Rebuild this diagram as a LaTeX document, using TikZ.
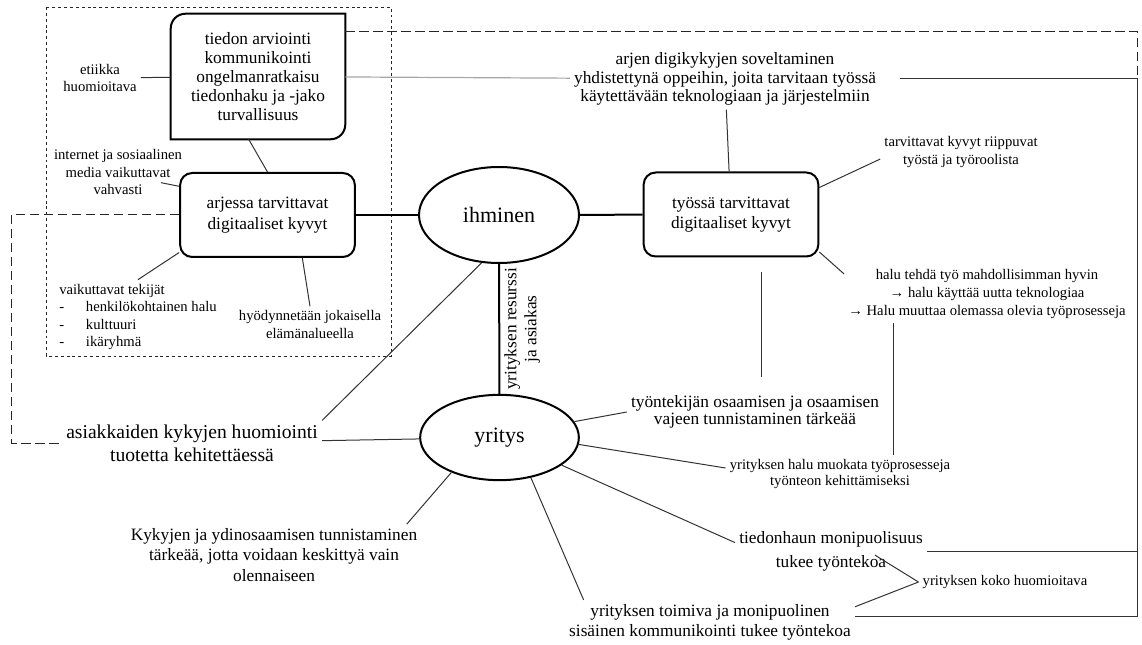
\documentclass[tikz,border=0pt]{standalone}
\usepackage{fontspec}
\setmainfont{Liberation Serif}
\usetikzlibrary{shapes.geometric}

\begin{document}
\begin{tikzpicture}[x=0.75pt, y=-0.75pt,
    every node/.style={inner sep=3pt},
    txtS/.style={font=\fontsize{11}{13.2}\selectfont, align=center},
    txtM/.style={font=\fontsize{13}{14.8}\selectfont, align=center},
    txtL/.style={font=\fontsize{14.7}{17}\selectfont, align=center},
    rbox/.style={draw, line width=1.5pt, rounded corners=9pt, minimum width=131pt, minimum height=63pt, txtM, font=\fontsize{13}{15.5}\selectfont},
    oval/.style={draw, ellipse, line width=1.5pt, inner sep=0pt, font=\fontsize{16.5}{19}\selectfont},
    link/.style={draw=black!80, line width=0.75pt},
    boldlink/.style={draw=black, line width=1.5pt},
    greylink/.style={draw=black!35, line width=0.9pt},
    dashlink/.style={draw=black!85, line width=0.75pt, dash pattern=on 7pt off 3.5pt},
    dotframe/.style={draw=black!85, line width=0.6pt, dash pattern=on 2.2pt off 2.2pt}]
    \useasboundingbox (0,0) rectangle (1142,645);

    % keskimmaiset solmut
    \node[oval, minimum width=120pt, minimum height=72pt] (ih) at (499,215) {ihminen};
    \node[oval, minimum width=119pt, minimum height=64pt] (yr) at (499.5,437.5) {yritys};
    \node[rbox] (ab) at (267.5,215) {arjessa tarvittavat\\digitaaliset kyvyt};
    \node[rbox] (wb) at (731,214.5) {työssä tarvittavat\\digitaaliset kyvyt};
    \node[txtM, font=\fontsize{13}{14.2}\selectfont, minimum width=130.5pt, minimum height=93.75pt] (tb) at (258,76.5)
        {tiedon arviointi\\kommunikointi\\ongelmanratkaisu\\tiedonhaku ja -jako\\turvallisuus};
    \draw[line width=1.5pt] (tb.west) [rounded corners=11pt] |- (tb.north) [sharp corners] -| (tb.east)
        [rounded corners=11pt] |- (tb.south) [sharp corners] -| (tb.west) -- cycle;

    % tekstit
    \node[txtS] (etiikka) at (100,78) {etiikka\\huomioitava};
    \node[txtS] (netti) at (118,172) {internet ja sosiaalinen\\media vaikuttavat\\vahvasti};
    \node[txtS, anchor=west, align=left] (tekijat) at (55,317) {vaikuttavat tekijät\\\makebox[20pt][l]{-}henkilökohtainen halu\\\makebox[20pt][l]{-}kulttuuri\\\makebox[20pt][l]{-}ikäryhmä};
    \node[txtS] (hyod) at (310,324.5) {hyödynnetään jokaisella\\elämänalueella};
    \node[txtM, font=\fontsize{13}{13.9}\selectfont] (arjen) at (725,79) {arjen digikykyjen soveltaminen\\yhdistettynä oppeihin, joita tarvitaan työssä\\käytettävään teknologiaan ja järjestelmiin};
    \node[txtS] (tarv) at (961,152) {tarvittavat kyvyt riippuvat\\työstä ja työroolista};
    \node[txtS, font=\fontsize{11}{13.5}\selectfont] (halu) at (987,294) {halu tehdä työ mahdollisimman hyvin\\→ halu käyttää uutta teknologiaa\\→ Halu muuttaa olemassa olevia työprosesseja};
    \node[txtM, font=\fontsize{13}{12.5}\selectfont] (tyontek) at (755,412) {työntekijän osaamisen ja osaamisen\\vajeen tunnistaminen tärkeää};
    \node[txtS, font=\fontsize{11}{11.5}\selectfont] (muokata) at (840,474) {yrityksen halu muokata työprosesseja\\työnteon kehittämiseksi};
    \node[txtM, font=\fontsize{13}{18}\selectfont] (tiedon) at (831,551) {tiedonhaun monipuolisuus\\tukee työntekoa};
    \node[txtS] (koko) at (1005,582) {yrityksen koko huomioitava};
    \node[txtM, font=\fontsize{13}{15}\selectfont] (toimiva) at (710,622) {yrityksen toimiva ja monipuolinen\\sisäinen kommunikointi tukee työntekoa};
    \node[txtM, font=\fontsize{13}{15.4}\selectfont] (kyky) at (274,555) {Kykyjen ja ydinosaamisen tunnistaminen\\tärkeää, jotta voidaan keskittyä vain\\olennaiseen};
    \node[txtL] (asiak) at (192,443) {asiakkaiden kykyjen huomiointi\\tuotetta kehitettäessä};
    \coordinate (rc) at (1137,79);

    % kehykset
    \draw[dotframe] (46,7) rectangle (391,356);
    \draw[dashlink] ([yshift=-13.5pt]tb.north east) -| (rc);
    \draw[dashlink] (ab.west) -- ++(-168,0) |- (asiak.west);

    % yhteydet
    \draw[link] (etiikka) -- (tb);
    \draw[link] ([xshift=-19pt, yshift=-8pt]netti.east) -- (ab.162);
    \draw[link] ([xshift=-7pt]tb.south) -- (ab.north);
    \draw[link] (tekijat.north) -- (ab.203);
    \draw[link] (hyod.north) -- (ab.-51);
    \draw[boldlink] (ab) -- (ih);
    \draw[boldlink] (ih) -- (wb);
    \draw[boldlink] (ih) -- node[midway, anchor=north, rotate=90, txtM, font=\fontsize{13}{15}\selectfont] {yrityksen resurssi\\ja asiakas} (yr);
    \draw[link] (ih.250) -- (asiak.north east);
    \draw[link] (asiak) -- (yr);
    \draw[greylink] (tb) -- (arjen);
    \draw[link] (arjen) -- (wb);
    \draw[link, shorten <=15pt] (arjen.east) -- (rc) |- (toimiva.2);
    \draw[link] (tiedon.east) -- (tiedon.east -| rc);
    \draw[link] (tarv.185) -- (wb.17);
    \draw[link] (halu.172) -- (wb.-23);
    \draw[link, shorten <=11pt, shorten >=11pt] ([xshift=23pt]wb.south) -- ([xshift=5pt]tyontek.north);
    \draw[link] ([xshift=-70.5pt]halu.south) -- ([xshift=39.75pt]muokata.north);
    \draw[link] (yr.12) -- (tyontek.west);
    \draw[link] (yr.-5) -- (muokata.177);
    \draw[link] (yr.-24) -- (tiedon.175);
    \draw[link] (yr.-52) -- ([xshift=14pt]toimiva.north west);
    \draw[link] (yr.216) -- ([xshift=-11pt]kyky.north east);
    \draw[link] (koko.west) -- ([xshift=-39pt, yshift=15pt]tiedon.south east);
    \draw[link] (koko.west) -- (toimiva.6);
\end{tikzpicture}
\end{document}
